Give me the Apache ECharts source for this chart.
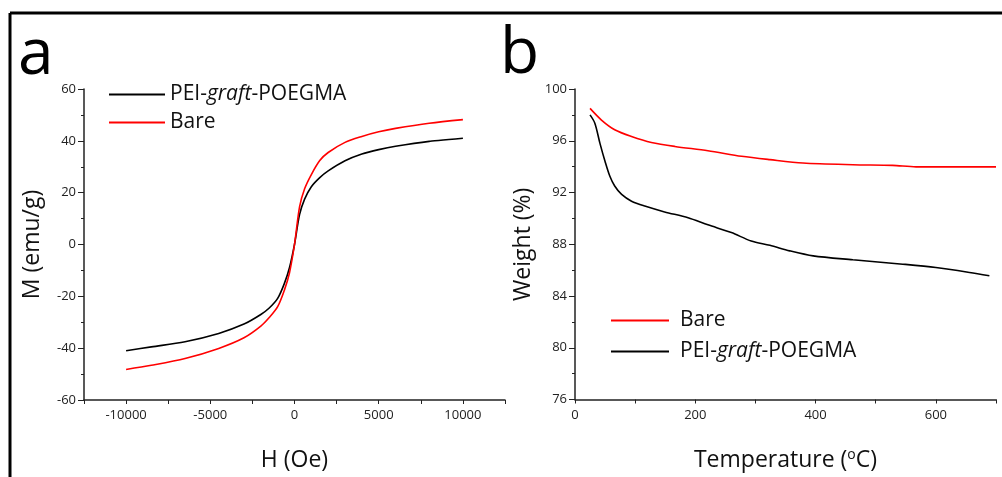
<!DOCTYPE html>
<html><head><meta charset="utf-8">
<script src="https://cdn.jsdelivr.net/npm/echarts@6/dist/echarts.min.js"></script>
<style>html,body{margin:0;padding:0;background:#fff}#c{width:1002px;height:477px}</style>
</head><body><div id="c"></div>
<script>
// Panel a: magnetization curves M(H)
const hField = [-10000,-8500,-6500,-4500,-3000,-2000,-1500,-1000,-600,-300,0,300,600,1000,1500,2000,3000,4000,5000,6000,8000,10000];
const mPEI  = [-41.0,-39.5,-37.5,-34.3,-30.7,-27.0,-24.5,-20.8,-15.0,-9.0,0,11.5,17.5,22.3,25.8,28.4,32.3,34.9,36.6,37.9,39.8,41.0];
const mBare = [-48.2,-46.6,-44.0,-40.1,-36.0,-31.5,-28.2,-24.0,-17.6,-11.0,0,14.5,21.5,27.0,32.4,35.5,39.4,41.7,43.5,44.8,46.8,48.2];
// Panel b: TGA curves
const tBare = [25,44,66,94,127,166,221,277,324,379,462,528,567,620,700];
const wBare = [98.5,97.6,96.85,96.33,95.87,95.56,95.23,94.8,94.54,94.28,94.15,94.1,93.98,93.98,93.98];
const tPEI  = [25,33,41.5,50,58,66,77.5,94,116,149,188,221,260,293,324,357,396,462,545,600,656,689];
const wPEI  = [98.0,97.36,95.8,94.4,93.25,92.5,91.85,91.33,90.95,90.5,90.05,89.5,88.9,88.25,87.92,87.49,87.1,86.8,86.46,86.2,85.82,85.56];

const NAME_PEI = 'PEI-graft-POEGMA';
const NAME_BARE = 'Bare';
const FONT = 'Open Sans';
const zip = (a,b) => a.map((v,i)=>[v,b[i]]);

const axisLine = {onZero:false,lineStyle:{color:'#222',width:1.5}};
const tickStyle = {lineStyle:{color:'#222',width:1}};
const labelStyle = {color:'#222',fontSize:13,fontFamily:FONT};
const nameStyle = {color:'#111',fontSize:23,fontFamily:FONT,
  rich:{sup:{fontSize:14,verticalAlign:'top',color:'#111',fontFamily:FONT,padding:[0,0,10,0]}}};
const legendFmt = n => n === NAME_PEI ? 'PEI-{it|graft}-POEGMA' : n;
const legendText = (pad) => ({color:'#111',fontSize:21,fontFamily:FONT,padding:[0,0,0,pad],
  rich:{it:{fontStyle:'italic',fontSize:21,fontFamily:FONT,color:'#111'}}});

const chart = echarts.init(document.getElementById('c'));
chart.setOption({
  animation:false,
  backgroundColor:'#fff',
  graphic:[
    {type:'line',shape:{x1:10,y1:13,x2:1002,y2:13},style:{stroke:'#000',lineWidth:3}},
    {type:'line',shape:{x1:10,y1:13,x2:10,y2:477},style:{stroke:'#000',lineWidth:3}},
    {type:'text',left:18,top:24,style:{text:'a',fontSize:64,fontFamily:FONT,fill:'#000'}},
    {type:'text',left:500,top:23,style:{text:'b',fontSize:64,fontFamily:FONT,fill:'#000'}}
  ],
  legend:[
    {left:104,top:79,orient:'vertical',icon:'rect',itemWidth:56,itemHeight:2,itemGap:7,
     itemStyle:{borderWidth:0},
     data:[NAME_PEI,NAME_BARE],formatter:legendFmt,textStyle:legendText(0),selectedMode:false},
    {left:606,top:305,orient:'vertical',icon:'rect',itemWidth:58,itemHeight:2,itemGap:10,
     itemStyle:{borderWidth:0},
     data:[NAME_BARE,NAME_PEI],formatter:legendFmt,textStyle:legendText(6),selectedMode:false}
  ],
  grid:[
    {left:84,top:89,width:421,height:312},
    {left:575,top:89,width:421,height:312}
  ],
  xAxis:[
    {gridIndex:0,type:'value',min:-12500,max:12500,interval:2500,
     axisLine,axisTick:{show:true,length:4,...tickStyle},splitLine:{show:false},
     axisLabel:{...labelStyle,margin:9,formatter:v=>(v%5000===0&&Math.abs(v)<=10000)?String(v):''},
     name:'H (Oe)',nameLocation:'middle',nameGap:49,nameTextStyle:nameStyle},
    {gridIndex:1,type:'value',min:0,max:700,interval:100,
     axisLine,axisTick:{show:true,length:4,...tickStyle},splitLine:{show:false},
     axisLabel:{...labelStyle,margin:9,formatter:v=>(v%200===0)?String(v):''},
     name:'Temperature ({sup|o}C)',nameLocation:'middle',nameGap:49,nameTextStyle:nameStyle}
  ],
  yAxis:[
    {gridIndex:0,type:'value',min:-60,max:60,interval:20,
     axisLine,axisTick:{show:true,length:6,...tickStyle},minorTick:{show:true,splitNumber:2,length:3,...tickStyle},
     splitLine:{show:false},axisLabel:{...labelStyle,margin:8},
     name:'M (emu/g)',nameLocation:'middle',nameGap:40,nameTextStyle:nameStyle},
    {gridIndex:1,type:'value',min:76,max:100,interval:4,
     axisLine,axisTick:{show:true,length:6,...tickStyle},minorTick:{show:true,splitNumber:2,length:3,...tickStyle},
     splitLine:{show:false},axisLabel:{...labelStyle,margin:8},
     name:'Weight (%)',nameLocation:'middle',nameGap:40,nameTextStyle:nameStyle}
  ],
  series:[
    {name:NAME_PEI,type:'line',xAxisIndex:0,yAxisIndex:0,data:zip(hField,mPEI),smooth:0.3,symbol:'none',
     lineStyle:{color:'#000',width:1.6},itemStyle:{color:'#000'}},
    {name:NAME_BARE,type:'line',xAxisIndex:0,yAxisIndex:0,data:zip(hField,mBare),smooth:0.3,symbol:'none',
     lineStyle:{color:'#ff0000',width:1.6},itemStyle:{color:'#ff0000'}},
    {name:NAME_BARE,type:'line',xAxisIndex:1,yAxisIndex:1,data:zip(tBare,wBare),smooth:0.3,symbol:'none',
     lineStyle:{color:'#ff0000',width:1.6},itemStyle:{color:'#ff0000'}},
    {name:NAME_PEI,type:'line',xAxisIndex:1,yAxisIndex:1,data:zip(tPEI,wPEI),smooth:0.3,symbol:'none',
     lineStyle:{color:'#000',width:1.6},itemStyle:{color:'#000'}}
  ]
});
</script></body></html>
